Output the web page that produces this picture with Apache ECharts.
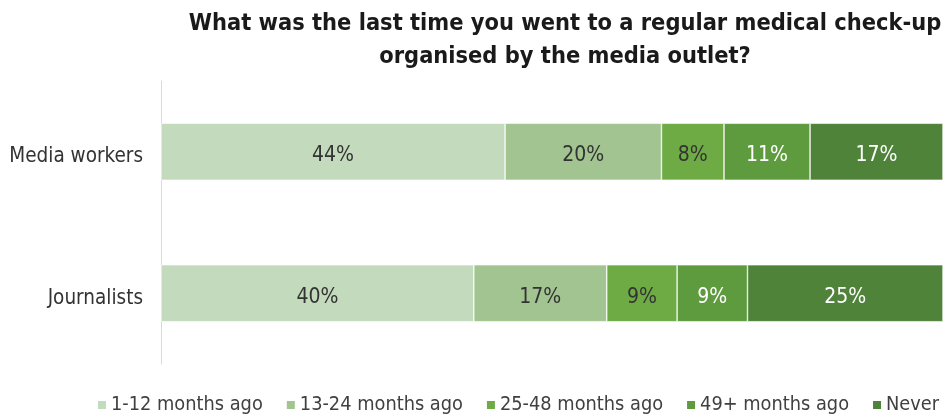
<!DOCTYPE html>
<html>
<head>
<meta charset="utf-8">
<script src="https://cdn.jsdelivr.net/npm/echarts@6/dist/echarts.min.js"></script>
<style>
  html, body { margin: 0; padding: 0; background: #fff; }
  #chart { width: 945px; height: 417px; }
</style>
</head>
<body>
<div id="chart"></div>
<script>
// Respondent groups (top to bottom)
const groups = ['Media workers', 'Journalists'];

// Time since last check-up, share of respondents (%)
const seriesNames = ['1-12 months ago', '13-24 months ago', '25-48 months ago', '49+ months ago', 'Never'];
const months1to12 = [44, 40];
const months13to24 = [20, 17];
const months25to48 = [8, 9];
const months49plus = [11, 9];
const never = [17, 25];

const seriesValues = [months1to12, months13to24, months25to48, months49plus, never];
const colors = ['#C3DABD', '#A1C490', '#6EAB45', '#5E9A3E', '#4F833A'];
const labelColors = ['#333333', '#333333', '#333333', '#ffffff', '#ffffff'];

const FONT = '"Liberation Sans Narrow", "DejaVu Sans Condensed", "Noto Sans", sans-serif';

const chart = echarts.init(document.getElementById('chart'));
chart.setOption({
  animation: false,
  title: {
    text: 'What was the last time you went to a regular medical check-up\norganised by the media outlet?',
    left: 560,
    textAlign: 'center',
    top: 2,
    textStyle: {
      fontFamily: FONT,
      fontWeight: 'bold',
      fontSize: 23.4,
      lineHeight: 33,
      color: '#1a1a1a'
    }
  },
  legend: {
    top: 390,
    left: 91,
    width: 850,
    itemWidth: 10,
    itemHeight: 10,
    itemGap: 22,
    icon: 'rect',
    textStyle: { fontFamily: FONT, fontSize: 19.8, color: '#404040', padding: [0, 0, 0, -1] },
    data: seriesNames
  },
  grid: { left: 161, right: 2, top: 81, bottom: 53 },
  xAxis: {
    type: 'value',
    min: 0,
    max: 100,
    show: false
  },
  yAxis: {
    type: 'category',
    data: groups,
    inverse: true,
    axisLine: { show: true, lineStyle: { color: '#D9D9D9', width: 1 } },
    axisTick: { show: false },
    axisLabel: {
      margin: 18,
      formatter: v => '{g|' + v + '}',
      rich: {
        g: { fontFamily: FONT, fontSize: 20.5, color: '#333333', padding: [10, 0, 0, 0] }
      }
    }
  },
  series: seriesNames.map((name, i) => ({
    name,
    type: 'bar',
    stack: 'total',
    barWidth: 57,
    data: seriesValues[i],
    itemStyle: { color: colors[i], borderColor: '#ffffff', borderWidth: 0.6 },
    label: {
      show: true,
      position: 'inside',
      offset: [0, 4],
      formatter: p => p.value + '%',
      fontFamily: FONT,
      fontSize: 21,
      color: labelColors[i]
    }
  }))
});
</script>
</body>
</html>
